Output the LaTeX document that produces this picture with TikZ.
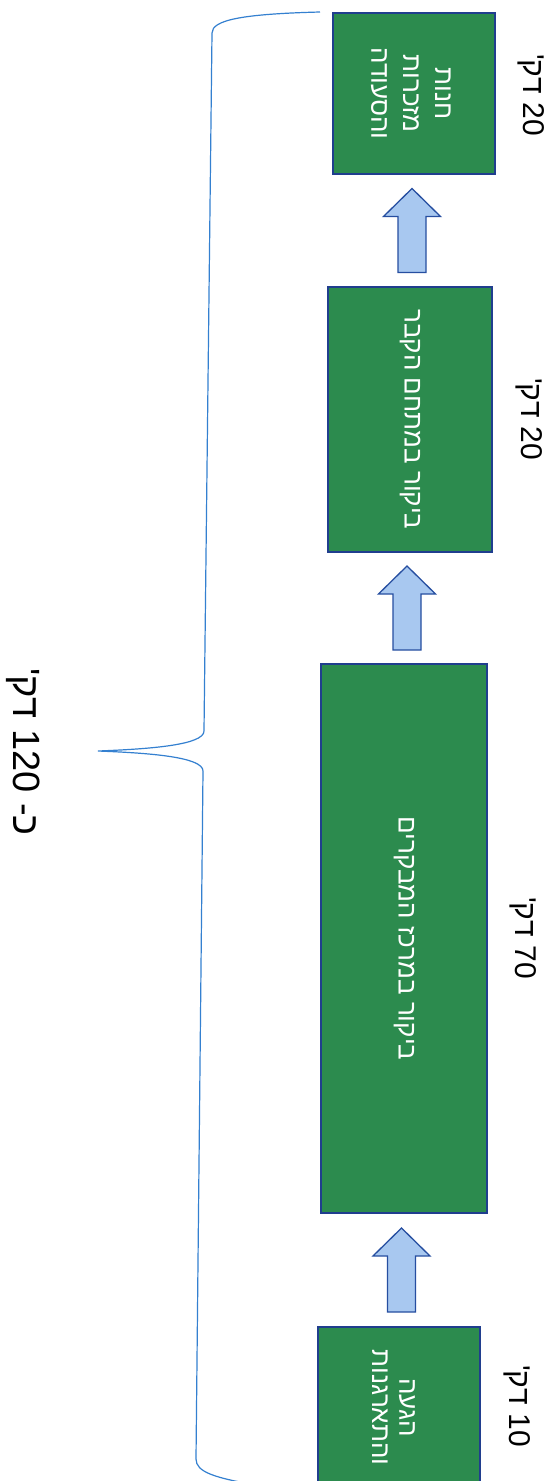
\documentclass[tikz,border=0pt]{standalone}
\usepackage{fontspec}
\setmainfont{Liberation Sans}
\newfontfamily\heb[Script=Hebrew]{Liberation Sans}
\TeXXeTstate=1
\usetikzlibrary{calc}

\definecolor{stagegreen}{RGB}{44,139,78}
\definecolor{stageedge}{RGB}{32,62,142}
\definecolor{arrowfill}{RGB}{168,200,240}
\definecolor{arrowedge}{RGB}{38,78,160}
\definecolor{bracecol}{RGB}{52,128,208}

\tikzset{
  stage/.style={rectangle, draw=stageedge, fill=stagegreen, line width=1.4pt,
    inner sep=0pt, outer sep=0pt},
  stagetext/.style={rotate=-90, text=white, inner sep=0pt,
    font=\heb\fontsize{26}{32}\selectfont},
  durlabel/.style={rotate=-90, text=black, inner sep=0pt,
    font=\heb\fontsize{30}{36}\selectfont},
  totallabel/.style={rotate=-90, text=black, inner sep=0pt,
    font=\heb\fontsize{38}{44}\selectfont},
  flowarrow/.style={draw=arrowedge, fill=arrowfill, line width=1.3pt, line join=miter},
  bracepath/.style={draw=bracecol, line width=1.2pt},
  pics/blockarrow/.style={code={
    \path[flowarrow] (-14,42) -- (-14,-14) -- (-28.5,-14) -- (0,-42)
      -- (28.5,-14) -- (14,-14) -- (14,42) -- cycle;
  }}
}
% one right-to-left line of text
\newcommand\rtl[1]{\beginR #1\endR}

\begin{document}
\begin{tikzpicture}[x=1pt,y=-1pt]
  \path[use as bounding box] (0,0) rectangle (557,1481);
  \clip (0,0) rectangle (557,1481);
  \fill[white] (0,0) rectangle (557,1481);

  % the four stages of the visit
  \node[stage, minimum width=162pt, minimum height=161pt] (shop)   at (414,93.5)  {};
  \node[stage, minimum width=164pt, minimum height=265pt] (tomb)   at (410,419.5) {};
  \node[stage, minimum width=166pt, minimum height=549pt] (center) at (404,938.5) {};
  \node[stage, minimum width=162pt, minimum height=161pt] (arrive) at (399,1407.5) {};

  % stage captions, one node per line (first line on the right)
  \node[stagetext] (shopT1) at ([xshift=29pt]shop.center)  {\rtl{חנות}};
  \node[stagetext] (shopT2) at ([xshift=-3pt]shop.center)  {\rtl{מזכרות}};
  \node[stagetext] (shopT3) at ([xshift=-35pt]shop.center) {\rtl{והסעודה}};
  \node[stagetext] (tombT) at (tomb.center) {\rtl{ביקור במתחם הקבר}};
  \node[stagetext] (centerT) at (center.center) {\rtl{ביקור במרכז המבקרים}};
  \node[stagetext] (arriveT1) at ([xshift=8pt]arrive.center)   {\rtl{הגעה}};
  \node[stagetext] (arriveT2) at ([xshift=-19pt]arrive.center) {\rtl{והתארגנות}};

  % block arrows between consecutive stages
  \coordinate (m1) at ($(shop.south)!0.5!(tomb.north)$);
  \coordinate (m2) at ($(tomb.south)!0.5!(center.north)$);
  \coordinate (m3) at ($(center.south)!0.5!(arrive.north)$);
  \pic at (m1) {blockarrow};
  \pic at (m2) {blockarrow};
  \pic at (m3) {blockarrow};

  % durations
  \node[durlabel] (shopD)   at (531,95)   {\beginR\beginL 20\endL{} דק'\endR};
  \node[durlabel] (tombD)   at (529,419)  {\beginR\beginL 20\endL{} דק'\endR};
  \node[durlabel] (centerD) at (523,938)  {\beginR\beginL 70\endL{} דק'\endR};
  \node[durlabel] (arriveD) at (517,1406) {\beginR\beginL 10\endL{} דק'\endR};

  % brace spanning the whole visit
  \path[bracepath]
    (320,12) .. controls (242,14) and (212,20) .. (212,33)
    -- (204,731)
    .. controls (204,745) and (150,749) .. (98,751)
    .. controls (150,753) and (203,757) .. (203,771)
    -- (196,1459)
    .. controls (196,1472) and (214,1478) .. (262,1486);

  \node[totallabel] (total) at (23,752)
    {\beginR כ- \beginL 120\endL{} דק'\endR};
\end{tikzpicture}
\end{document}
